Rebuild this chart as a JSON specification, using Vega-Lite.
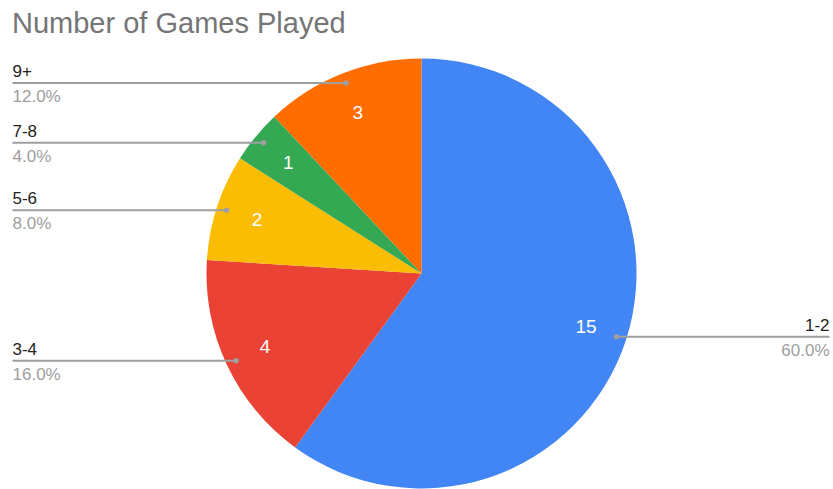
{
  "$schema": "https://vega.github.io/schema/vega-lite/v6.json",
  "width": 833,
  "height": 444,
  "autosize": "none",
  "padding": {"top": 45, "left": 0, "right": 0, "bottom": 0},
  "title": {
    "text": "Number of Games Played",
    "anchor": "start",
    "frame": "group",
    "dx": 12,
    "offset": 6,
    "font": "Liberation Sans",
    "fontSize": 29,
    "fontWeight": "normal",
    "color": "#757575"
  },
  "config": {"view": {"stroke": null}},
  "data": {
    "values": [
      {"idx": 1, "games": "1-2", "count": 15},
      {"idx": 2, "games": "3-4", "count": 4},
      {"idx": 3, "games": "5-6", "count": 2},
      {"idx": 4, "games": "7-8", "count": 1},
      {"idx": 5, "games": "9+", "count": 3}
    ]
  },
  "transform": [
    {"joinaggregate": [{"op": "sum", "field": "count", "as": "total"}]},
    {"window": [{"op": "sum", "field": "count", "as": "cum"}], "sort": [{"field": "idx"}], "frame": [null, 0]},
    {"calculate": "(datum.cum - datum.count / 2) / datum.total * 2 * PI", "as": "mid"},
    {"calculate": "205 * sin(datum.mid)", "as": "px"},
    {"calculate": "205 * cos(datum.mid)", "as": "py"},
    {"calculate": "173 * sin(datum.mid)", "as": "tx"},
    {"calculate": "173 * cos(datum.mid)", "as": "ty"},
    {"calculate": "datum.px < 0 ? -409 : 408", "as": "lx"},
    {"calculate": "format(datum.count / datum.total, '.1%')", "as": "pct"}
  ],
  "encoding": {
    "x": {"field": "px", "type": "quantitative", "scale": {"domain": [-421.5, 411.5], "nice": false, "zero": false}, "axis": null},
    "y": {"field": "py", "type": "quantitative", "scale": {"domain": [-215.5, 228.5], "nice": false, "zero": false}, "axis": null}
  },
  "layer": [
    {
      "mark": {"type": "arc", "outerRadius": 215},
      "encoding": {
        "x": {"datum": 0, "type": "quantitative"},
        "y": {"datum": 0, "type": "quantitative"},
        "theta": {"field": "count", "type": "quantitative", "stack": true},
        "order": {"field": "idx", "type": "quantitative"},
        "color": {
          "field": "games",
          "type": "nominal",
          "scale": {"domain": ["1-2", "3-4", "5-6", "7-8", "9+"], "range": ["#4285F4", "#EA4335", "#FBBC04", "#34A853", "#FF6D01"]},
          "legend": null
        }
      }
    },
    {
      "mark": {"type": "text", "font": "Liberation Sans", "fontSize": 19, "color": "white", "align": "center", "baseline": "middle"},
      "encoding": {
        "x": {"field": "tx", "type": "quantitative"},
        "y": {"field": "ty", "type": "quantitative"},
        "text": {"field": "count", "type": "quantitative"}
      }
    },
    {
      "mark": {"type": "rule", "color": "#9e9e9e", "strokeWidth": 2},
      "encoding": {
        "x2": {"field": "lx"}
      }
    },
    {
      "mark": {"type": "point", "filled": true, "color": "#9e9e9e", "size": 30, "opacity": 1},
      "encoding": {}
    },
    {
      "transform": [{"filter": "datum.px < 0"}],
      "layer": [
        {
          "mark": {"type": "text", "font": "Liberation Sans", "fontSize": 17, "color": "#222222", "align": "left", "baseline": "middle", "dy": -11},
          "encoding": {
            "x": {"field": "lx", "type": "quantitative"},
            "text": {"field": "games", "type": "nominal"}
          }
        },
        {
          "mark": {"type": "text", "font": "Liberation Sans", "fontSize": 17, "color": "#9e9e9e", "align": "left", "baseline": "middle", "dy": 14},
          "encoding": {
            "x": {"field": "lx", "type": "quantitative"},
            "text": {"field": "pct", "type": "nominal"}
          }
        }
      ]
    },
    {
      "transform": [{"filter": "datum.px >= 0"}],
      "layer": [
        {
          "mark": {"type": "text", "font": "Liberation Sans", "fontSize": 17, "color": "#222222", "align": "right", "baseline": "middle", "dy": -11},
          "encoding": {
            "x": {"field": "lx", "type": "quantitative"},
            "text": {"field": "games", "type": "nominal"}
          }
        },
        {
          "mark": {"type": "text", "font": "Liberation Sans", "fontSize": 17, "color": "#9e9e9e", "align": "right", "baseline": "middle", "dy": 14},
          "encoding": {
            "x": {"field": "lx", "type": "quantitative"},
            "text": {"field": "pct", "type": "nominal"}
          }
        }
      ]
    }
  ]
}
